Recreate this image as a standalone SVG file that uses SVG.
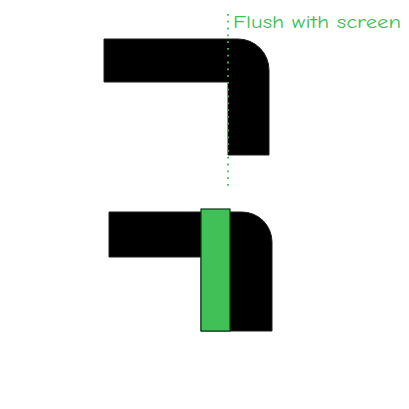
<svg xmlns="http://www.w3.org/2000/svg" width="409" height="409" viewBox="0 0 409 409">
<style>
.bar{fill:#000;stroke:#1e1e1e;stroke-width:1}
.hl{fill:#40c057;stroke:#0b3d14;stroke-width:1.2}
.guide{stroke:#40c057;stroke-width:1.8;stroke-dasharray:1.8 5;fill:none}
.lbl{font-family:"Comic Neue","Liberation Sans",sans-serif;font-size:18px;fill:#40c057}
</style>
<rect width="409" height="409" fill="#fff"/>
<g id="top-shape">
<path class="bar" d="M104,39 H238 A31,31 0 0 1 269,70 V155 H228 V82 H104 Z"/>
</g>
<g id="bottom-shape">
<path class="bar" d="M109,212 H242 A30,30 0 0 1 272,242 V331 H201 V257 H109 Z"/>
<rect class="hl" x="201" y="209" width="29" height="122"/>
</g>
<g id="connectors">
<line class="guide" x1="228" y1="14" x2="228" y2="188"/>
</g>
<g id="label">
<text class="lbl" x="233" y="28" textLength="168" lengthAdjust="spacingAndGlyphs">Flush with screen</text>
</g>
</svg>
